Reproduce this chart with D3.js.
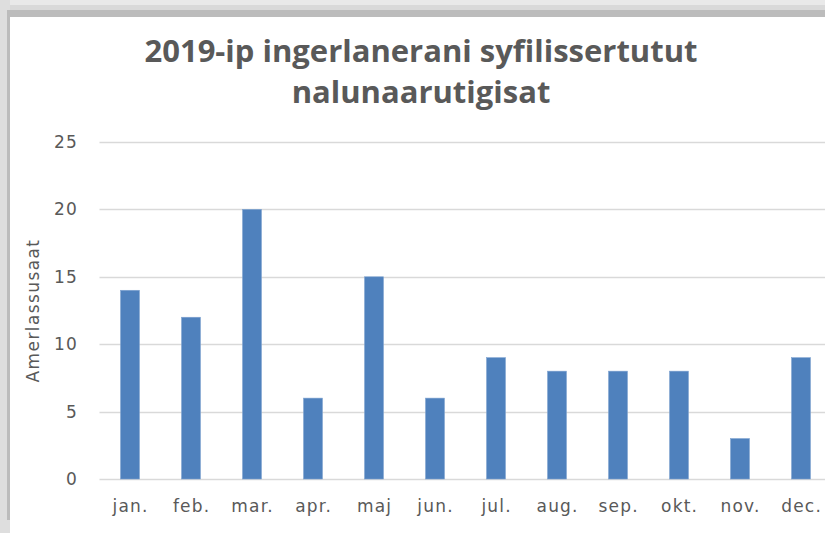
<!DOCTYPE html>
<html>
<head>
<meta charset="utf-8">
<script src="https://cdn.jsdelivr.net/npm/d3@7"></script>
<style>
  body { margin: 0; background: #fff; }
  svg { display: block; }
</style>
</head>
<body>
<svg id="chart" width="825" height="533"></svg>
<script>
const months = ["jan.", "feb.", "mar.", "apr.", "maj", "jun.", "jul.", "aug.", "sep.", "okt.", "nov.", "dec."];
const cases = [14, 12, 20, 6, 15, 6, 9, 8, 8, 8, 3, 9];
const yTicks = [0, 5, 10, 15, 20, 25];
const titleLines = ["2019-ip ingerlanerani syfilissertutut", "nalunaarutigisat"];
const yLabel = "Amerlassusaat";

const svg = d3.select("#chart"),
  margin = { top: 142, left: 99.5, bottom: 54 },
  plotRight = 831.5,
  height = +svg.attr("height") - margin.bottom;

const labelFont = "'DejaVu Sans', sans-serif";

// frame shadow (top + left)
svg.append("rect").attr("x", 0).attr("y", 0).attr("width", 825).attr("height", 6).attr("fill", "#e9e9e9");
svg.append("rect").attr("x", 0).attr("y", 5).attr("width", 825).attr("height", 6).attr("fill", "#d9d9d9");
svg.append("rect").attr("x", 0).attr("y", 10).attr("width", 825).attr("height", 7).attr("fill", "#bcbcbc");
svg.append("rect").attr("x", 0).attr("y", 0).attr("width", 10).attr("height", 533).attr("fill", "#dedede");
svg.append("rect").attr("x", 7).attr("y", 10).attr("width", 3).attr("height", 510).attr("fill", "#bcbcbc");

const x = d3.scaleBand()
  .domain(months)
  .range([margin.left, plotRight])
  .paddingInner(0.69)
  .paddingOuter(0.345);

const y = d3.scaleLinear().domain([0, 25]).range([height, margin.top]);

// gridlines
svg.append("g")
  .selectAll("line")
  .data(yTicks)
  .join("line")
  .attr("x1", margin.left)
  .attr("x2", plotRight)
  .attr("y1", (d) => Math.round(y(d)) + 0.5)
  .attr("y2", (d) => Math.round(y(d)) + 0.5)
  .attr("stroke", "#d9d9d9")
  .attr("stroke-width", 1.3);

// y axis labels
const gy = svg.append("g")
  .attr("transform", `translate(${margin.left}, 0)`)
  .call(d3.axisLeft(y).tickValues(yTicks).tickSize(0).tickPadding(21.5));
gy.select(".domain").remove();
gy.selectAll(".tick text")
  .attr("fill", "#595959")
  .style("font-family", labelFont)
  .style("font-size", "17px")
  .style("letter-spacing", "1.2px");

// bars
svg.append("g")
  .selectAll("rect")
  .data(cases)
  .join("rect")
  .attr("x", (d, i) => x(months[i]))
  .attr("y", (d) => y(d))
  .attr("width", x.bandwidth())
  .attr("height", (d) => y(0) - y(d))
  .attr("fill", "#4f81bd")
  .attr("stroke", "#7ea2d0")
  .attr("stroke-width", 0.6);

// x axis labels
const gx = svg.append("g")
  .attr("transform", `translate(0, ${y(0)})`)
  .call(d3.axisBottom(x).tickSize(0).tickPadding(21));
gx.select(".domain").remove();
gx.selectAll(".tick text")
  .attr("fill", "#595959")
  .attr("dx", "0.6px")
  .style("font-family", labelFont)
  .style("font-size", "17px")
  .style("letter-spacing", "1.2px");

// title
svg.append("text")
  .attr("x", 420)
  .attr("y", 62)
  .attr("text-anchor", "middle")
  .attr("fill", "#595959")
  .style("font-family", "'Open Sans', sans-serif")
  .style("font-weight", "bold")
  .style("font-size", "31px")
  .selectAll("tspan")
  .data(titleLines)
  .join("tspan")
  .attr("x", 421)
  .attr("dy", (d, i) => (i === 0 ? 0 : 41))
  .text((d) => d);

// y axis title
svg.append("text")
  .attr("transform", `translate(39, ${(y(0) + y(25)) / 2}) rotate(-90)`)
  .attr("text-anchor", "middle")
  .attr("fill", "#595959")
  .style("font-family", labelFont)
  .style("font-size", "17px")
  .style("letter-spacing", "1.4px")
  .text(yLabel);
</script>
</body>
</html>
